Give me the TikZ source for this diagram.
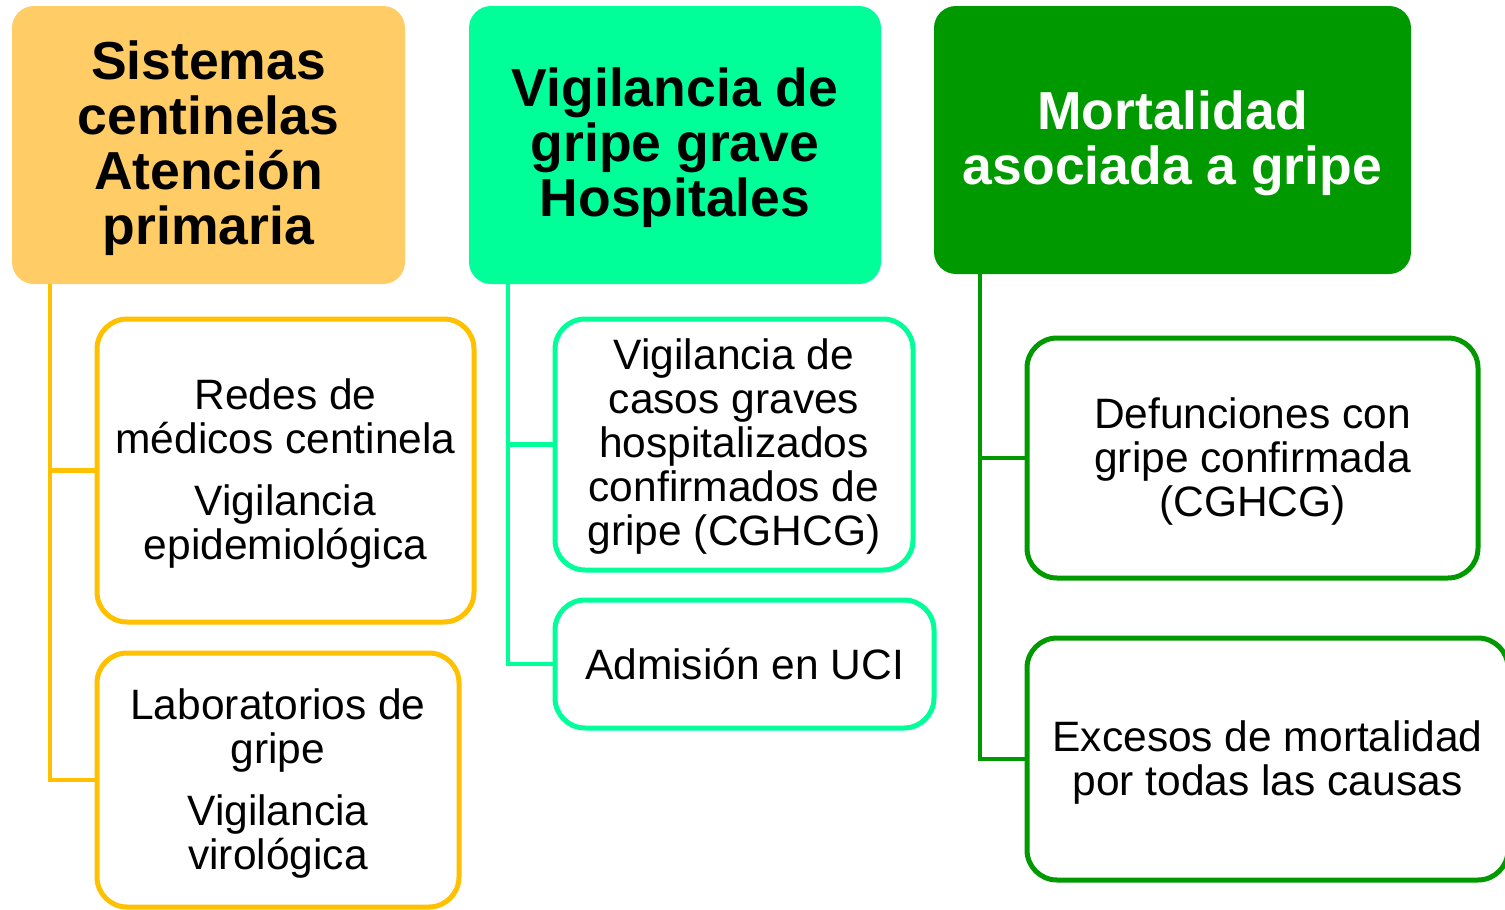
\documentclass[tikz,border=0pt]{standalone}
\usepackage{fontspec}
\setmainfont{Liberation Sans}
\definecolor{hOrange}{HTML}{FFCC66}
\definecolor{lOrange}{HTML}{FFC000}
\definecolor{mint}{HTML}{00FF99}
\definecolor{dgreen}{HTML}{009900}
\begin{document}
\begin{tikzpicture}[x=1pt,y=-1pt,
  head/.style={rounded corners=22pt, inner sep=0pt},
  headtxt/.style={inner sep=0pt, align=center, font=\fontsize{53.5}{55}\selectfont\bfseries},
  child/.style={rounded corners=30pt, line width=5pt, fill=white, inner sep=0pt},
  childtxt/.style={inner sep=0pt, align=center, font=\fontsize{42.5}{44}\selectfont},
  conn/.style={line width=4.5pt}]
\useasboundingbox (0,0) rectangle (1505,910);

% headers
\node[head, fill=hOrange, minimum width=393pt, minimum height=278pt] (h1) at (208.5,145) {};
\node[headtxt] (h1t) at ([yshift=-3.5pt]h1.center) {Sistemas\\centinelas\\Atención\\primaria};
\node[head, fill=mint, minimum width=412pt, minimum height=278pt] (h2) at (675,145) {};
\node[headtxt] (h2t) at ([yshift=-3pt]h2.center) {Vigilancia de\\gripe grave\\Hospitales};
\node[head, fill=dgreen, minimum width=477pt, minimum height=268pt] (h3) at (1172.5,140) {};
\node[headtxt, text=white] (h3t) at ([yshift=-3pt]h3.center) {Mortalidad\\asociada a gripe};

% children
\node[child, draw=lOrange, minimum width=377pt, minimum height=303pt] (l1) at (285.5,470.5) {};
\node[childtxt] (l1t) at ([yshift=-3pt]l1.center)
  {Redes de\\médicos centinela\\[18pt]Vigilancia\\epidemiológica};
\node[child, draw=lOrange, minimum width=362pt, minimum height=254pt] (l2) at (278,780) {};
\node[childtxt] (l2t) at ([yshift=-4pt]l2.center)
  {Laboratorios de\\gripe\\[18pt]Vigilancia\\virológica};
\node[child, draw=mint, minimum width=358pt, minimum height=251pt] (m1) at (734,444.5) {};
\node[childtxt] (m1t) at ([yshift=-2pt]m1.center)
  {Vigilancia de\\casos graves\\hospitalizados\\confirmados de\\gripe (CGHCG)};
\node[child, draw=mint, minimum width=379pt, minimum height=128pt] (m2) at (744.5,664) {};
\node[childtxt] (m2t) at (m2.center) {Admisión en UCI};
\node[child, draw=dgreen, minimum width=451pt, minimum height=240pt] (r1) at (1252.5,458) {};
\node[childtxt] (r1t) at ([yshift=-3pt]r1.center)
  {Defunciones con\\gripe confirmada\\(CGHCG)};
\node[child, draw=dgreen, minimum width=481pt, minimum height=242pt] (r2) at (1267.5,759) {};
\node[childtxt] (r2t) at ([yshift=-3.5pt]r2.center)
  {Excesos de mortalidad\\por todas las causas};

% connectors
\draw[conn, lOrange] ([xshift=38pt]h1.south west) |- (l1.west);
\draw[conn, lOrange] ([xshift=38pt]h1.south west) |- (l2.west);
\draw[conn, mint] ([xshift=39pt]h2.south west) |- (m1.west);
\draw[conn, mint] ([xshift=39pt]h2.south west) |- (m2.west);
\draw[conn, dgreen] ([xshift=46pt]h3.south west) |- (r1.west);
\draw[conn, dgreen] ([xshift=46pt]h3.south west) |- (r2.west);
\end{tikzpicture}
\end{document}
